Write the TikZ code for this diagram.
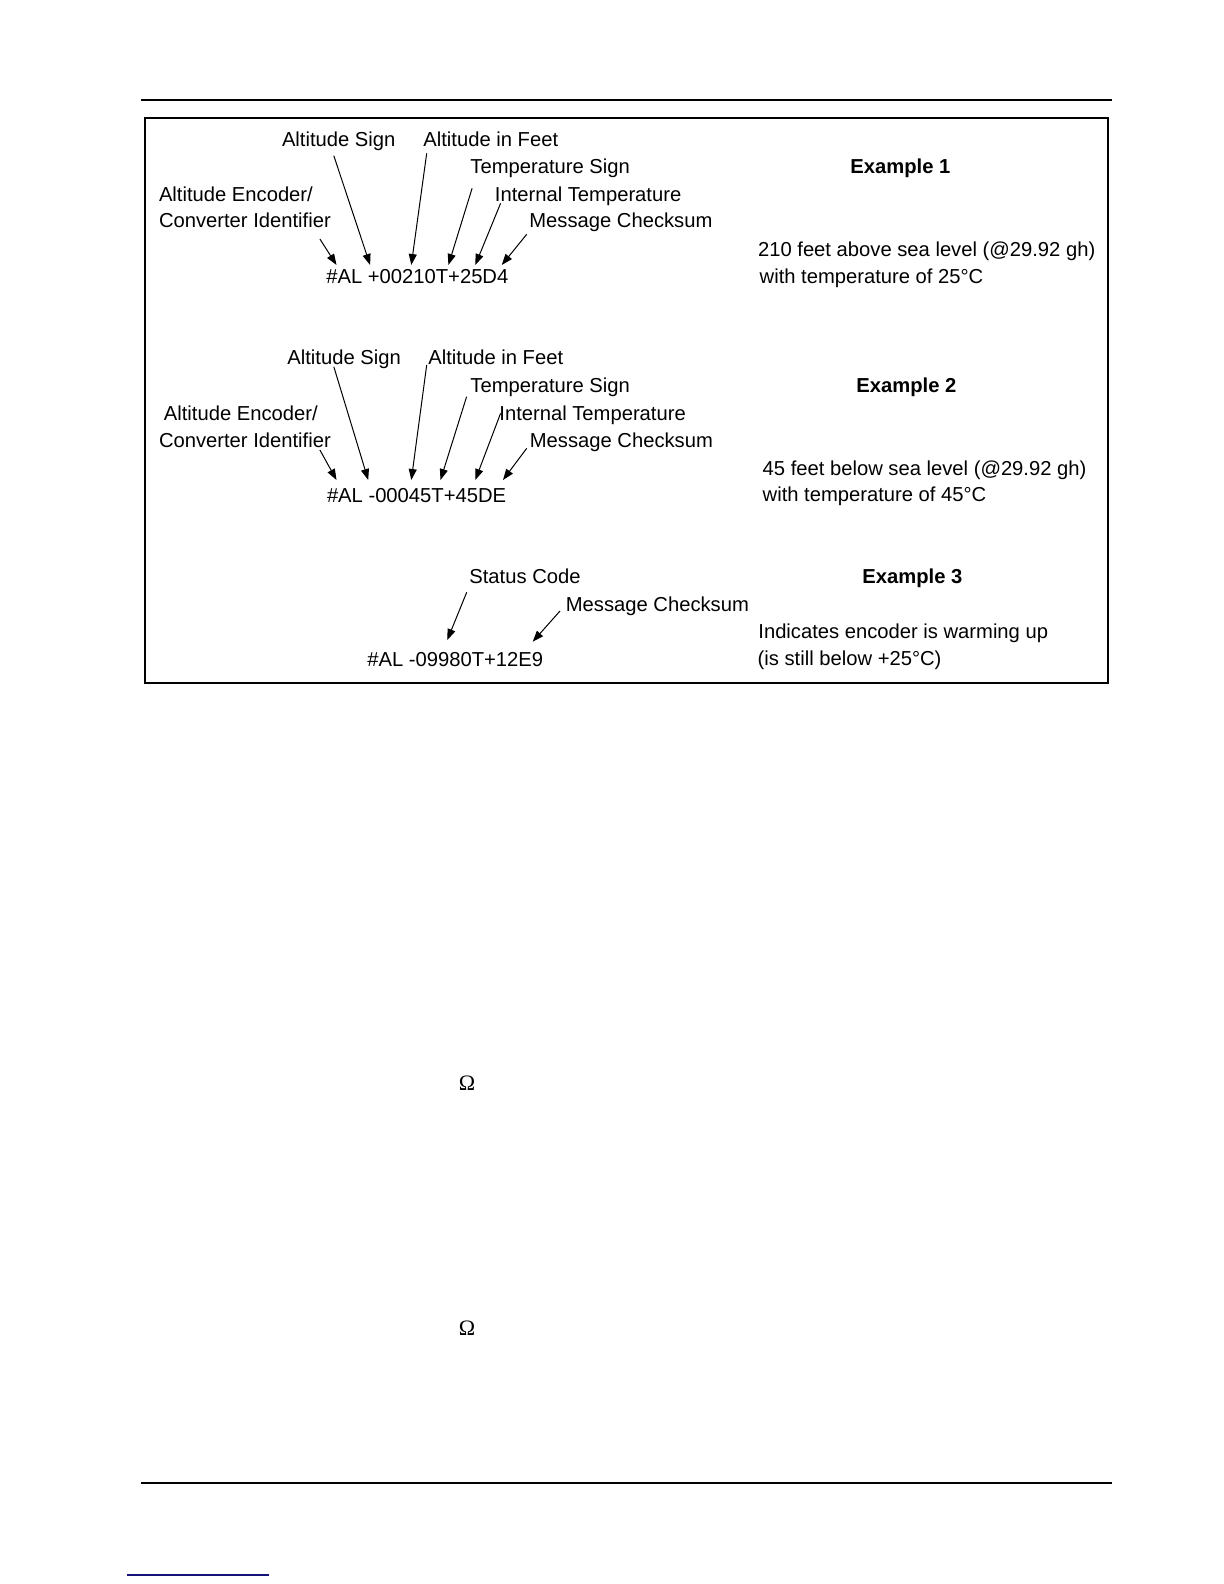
\documentclass[tikz,border=0pt]{standalone}
\usepackage{fontspec}
\setmainfont{Liberation Sans}
\newfontfamily\omegafont{Liberation Serif}
\usetikzlibrary{arrows.meta}
\definecolor{navyline}{RGB}{20,20,120}
\tikzset{
  lbl/.style={anchor=base west, inner sep=0pt, font=\fontsize{10.1}{12}\selectfont},
  hdr/.style={anchor=base west, inner sep=0pt, font=\fontsize{10.1}{12}\selectfont\bfseries},
  ptr/.style={-{Triangle[length=5.5pt,width=4pt]}, line width=0.5pt},
  rulestyle/.style={line width=0.6pt},
  framestyle/.style={line width=1pt},
  omg/.style={anchor=base, inner sep=0pt, font=\fontsize{11}{13}\omegafont}
}
\begin{document}
\begin{tikzpicture}[x=0.5pt,y=-0.5pt]
\useasboundingbox (0,0) rectangle (1224,1584);
% page rules
\coordinate (tr1) at (141,100); \coordinate (tr2) at (1112,100);
\draw[rulestyle] (tr1) -- (tr2);
\coordinate (br1) at (141,1483); \coordinate (br2) at (1112,1483);
\draw[rulestyle] (br1) -- (br2);
\coordinate (bl1) at (127,1575); \coordinate (bl2) at (269,1575);
\draw[line width=0.6pt, navyline] (bl1) -- (bl2);
% frame
\coordinate (f1) at (145,118); \coordinate (f2) at (1108,683);
\draw[framestyle] (f1) rectangle (f2);

% ---------- Example 1 ----------
\node[lbl] (e1as) at (281.6,146.7) {Altitude Sign};
\node[lbl] (e1af) at (423,146.7) {Altitude in Feet};
\node[lbl] (e1ts) at (470,173.3) {Temperature Sign};
\node[lbl] (e1ae) at (158.6,201) {Altitude Encoder/};
\node[lbl] (e1it) at (494.5,201) {Internal Temperature};
\node[lbl] (e1ci) at (158.6,227.7) {Converter Identifier};
\node[lbl] (e1mc) at (529,227.7) {Message Checksum};
\node[lbl] (e1code) at (326,283.3) {\#AL +00210T+25D4};
\node[hdr] (e1h) at (850,173.3) {Example 1};
\node[lbl] (e1d1) at (757.7,256) {210 feet above sea level (@29.92 gh)};
\node[lbl] (e1d2) at (759.3,283) {with temperature of 25°C};

\coordinate (e1t1) at (319.9,239);   \coordinate (e1h1) at (336.5,265);
\coordinate (e1t2) at (333.8,155.7); \coordinate (e1h2) at (370.1,265);
\coordinate (e1t3) at (426.7,153.3); \coordinate (e1h3) at (411.3,265);
\coordinate (e1t4) at (472.1,188.3); \coordinate (e1h4) at (448.4,265);
\coordinate (e1t5) at (500.6,203.3); \coordinate (e1h5) at (475.3,265);
\coordinate (e1t6) at (526.7,234.3); \coordinate (e1h6) at (501.8,265);
\foreach \i in {1,...,6} {\draw[ptr] (e1t\i) -- (e1h\i);}

% ---------- Example 2 ----------
\node[lbl] (e2as) at (287,364.3) {Altitude Sign};
\node[lbl] (e2af) at (428,364.3) {Altitude in Feet};
\node[lbl] (e2ts) at (470,392.7) {Temperature Sign};
\node[lbl] (e2ae) at (163.5,420.7) {Altitude Encoder/};
\node[lbl] (e2it) at (499,420.7) {Internal Temperature};
\node[lbl] (e2ci) at (158.6,447.3) {Converter Identifier};
\node[lbl] (e2mc) at (529.5,447.3) {Message Checksum};
\node[lbl] (e2code) at (326.6,502.7) {\#AL -00045T+45DE};
\node[hdr] (e2h) at (856,392.7) {Example 2};
\node[lbl] (e2d1) at (762.3,475) {45 feet below sea level (@29.92 gh)};
\node[lbl] (e2d2) at (762.3,501) {with temperature of 45°C};

\coordinate (e2t1) at (319.9,450);   \coordinate (e2h1) at (336.5,480);
\coordinate (e2t2) at (333.8,366.7); \coordinate (e2h2) at (368.2,480);
\coordinate (e2t3) at (426.7,365);   \coordinate (e2h3) at (411.3,480);
\coordinate (e2t4) at (466.6,396.7); \coordinate (e2h4) at (440.5,480);
\coordinate (e2t5) at (500.6,413.3); \coordinate (e2h5) at (475.3,480);
\coordinate (e2t6) at (526.7,448.3); \coordinate (e2h6) at (503,480);
\foreach \i in {1,...,6} {\draw[ptr] (e2t\i) -- (e2h\i);}

% ---------- Example 3 ----------
\node[lbl] (e3sc) at (469,583.3) {Status Code};
\node[lbl] (e3mc) at (565.5,611) {Message Checksum};
\node[lbl] (e3code) at (367,666.7) {\#AL -09980T+12E9};
\node[hdr] (e3h) at (862,583.3) {Example 3};
\node[lbl] (e3d1) at (758,638) {Indicates encoder is warming up};
\node[lbl] (e3d2) at (757.3,665) {(is still below +25°C)};

\coordinate (e3t1) at (466.7,592.3); \coordinate (e3h1) at (447.3,640);
\coordinate (e3t2) at (560,611);     \coordinate (e3h2) at (532.7,641.7);
\foreach \i in {1,2} {\draw[ptr] (e3t\i) -- (e3h\i);}

% ---------- Omega symbols ----------
\node[omg] (om1) at (467,1090) {Ω};
\node[omg] (om2) at (467,1335) {Ω};
\end{tikzpicture}
\end{document}
